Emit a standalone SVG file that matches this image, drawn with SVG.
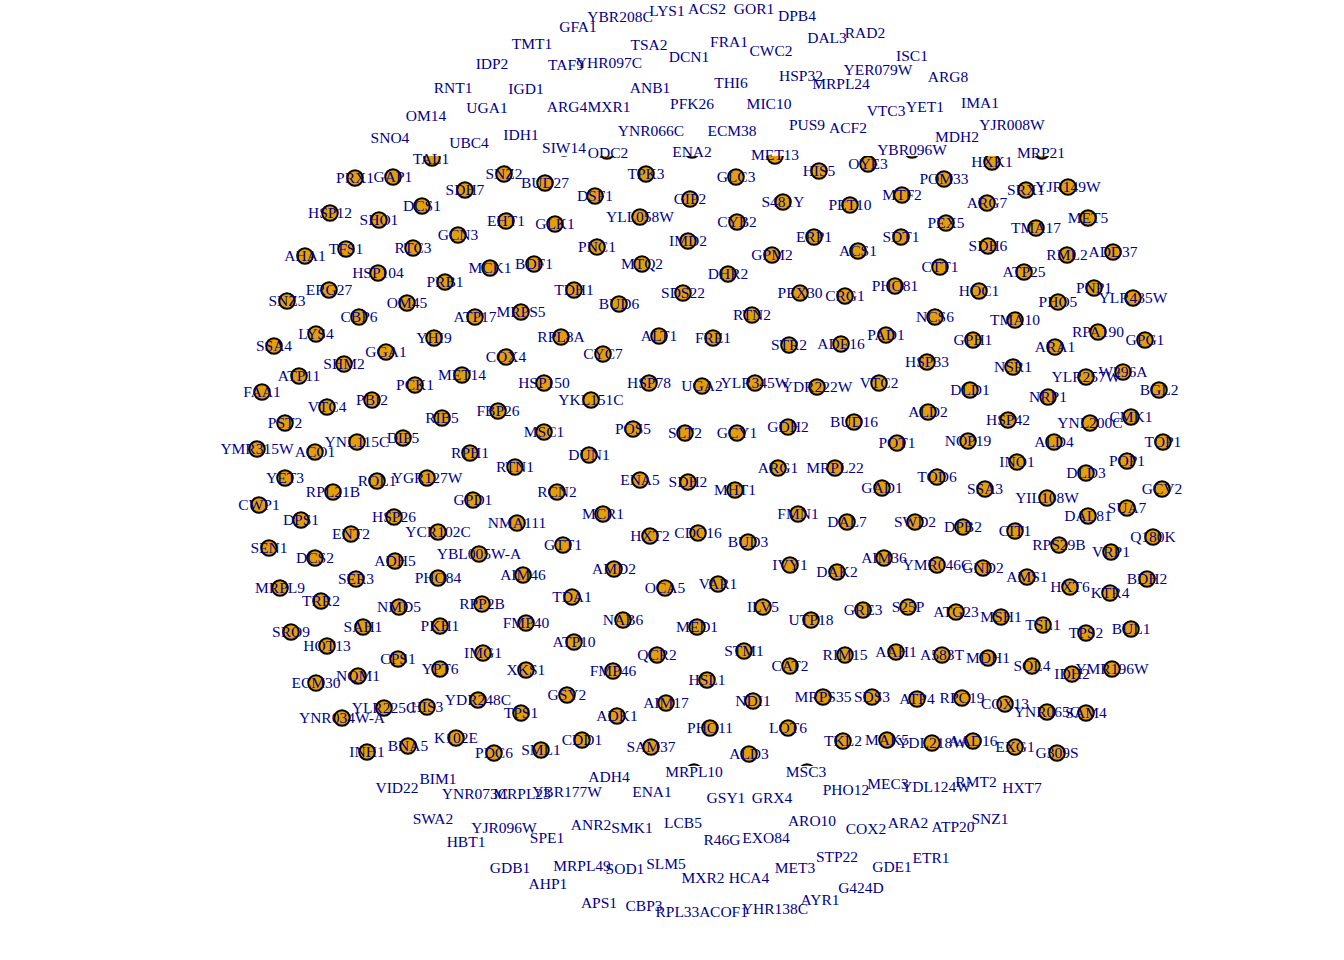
<svg xmlns="http://www.w3.org/2000/svg" width="1344" height="960" viewBox="0 0 1344 960">
<style>
.v{fill:#E69F00;stroke:#000;stroke-width:2;clip-path:url(#plot)}
text{font-family:"Liberation Serif","Times New Roman",serif;font-size:15.5px;fill:#00008B;text-anchor:middle}
</style>
<defs><clipPath id="plot"><rect x="0" y="156" width="1344" height="610"/></clipPath></defs>
<rect width="1344" height="960" fill="#fff"/>
<g id="nodes">
<g id="v-PRX1"><circle class="v" cx="355" cy="178" r="7.8"/><text x="355" y="183">PRX1</text></g>
<g id="v-GAP1"><circle class="v" cx="393" cy="177" r="7.8"/><text x="393" y="182">GAP1</text></g>
<g id="v-HSP12"><circle class="v" cx="330" cy="213" r="7.8"/><text x="330" y="218">HSP12</text></g>
<g id="v-SHO1"><circle class="v" cx="379" cy="220" r="7.8"/><text x="379" y="225">SHO1</text></g>
<g id="v-DCS1"><circle class="v" cx="422" cy="206" r="7.8"/><text x="422" y="211">DCS1</text></g>
<g id="v-GCN3"><circle class="v" cx="458" cy="235" r="7.8"/><text x="458" y="240">GCN3</text></g>
<g id="v-AHA1"><circle class="v" cx="305" cy="256" r="7.8"/><text x="305" y="261">AHA1</text></g>
<g id="v-TFS1"><circle class="v" cx="346" cy="249" r="7.8"/><text x="346" y="254">TFS1</text></g>
<g id="v-RTC3"><circle class="v" cx="413" cy="248" r="7.8"/><text x="413" y="253">RTC3</text></g>
<g id="v-HSP104"><circle class="v" cx="378" cy="273" r="7.8"/><text x="378" y="278">HSP104</text></g>
<g id="v-PRB1"><circle class="v" cx="445" cy="282" r="7.8"/><text x="445" y="287">PRB1</text></g>
<g id="v-ERG27"><circle class="v" cx="329" cy="290" r="7.8"/><text x="329" y="295">ERG27</text></g>
<g id="v-SNZ3"><circle class="v" cx="287" cy="301" r="7.8"/><text x="287" y="306">SNZ3</text></g>
<g id="v-OM45"><circle class="v" cx="407" cy="303" r="7.8"/><text x="407" y="308">OM45</text></g>
<g id="v-CBP6"><circle class="v" cx="359" cy="317" r="7.8"/><text x="359" y="322">CBP6</text></g>
<g id="v-SNZ2"><circle class="v" cx="504" cy="174" r="7.8"/><text x="504" y="179">SNZ2</text></g>
<g id="v-BUD27"><circle class="v" cx="545" cy="183" r="7.8"/><text x="545" y="188">BUD27</text></g>
<g id="v-TPK3"><circle class="v" cx="646" cy="174" r="7.8"/><text x="646" y="179">TPK3</text></g>
<g id="v-SDH7"><circle class="v" cx="465" cy="190" r="7.8"/><text x="465" y="195">SDH7</text></g>
<g id="v-DSF1"><circle class="v" cx="595" cy="196" r="7.8"/><text x="595" y="201">DSF1</text></g>
<g id="v-GIP2"><circle class="v" cx="690" cy="199" r="7.8"/><text x="690" y="204">GIP2</text></g>
<g id="v-EHT1"><circle class="v" cx="506" cy="221" r="7.8"/><text x="506" y="226">EHT1</text></g>
<g id="v-GLK1"><circle class="v" cx="555" cy="224" r="7.8"/><text x="555" y="229">GLK1</text></g>
<g id="v-YLL058W"><circle class="v" cx="640" cy="217" r="7.8"/><text x="640" y="222">YLL058W</text></g>
<g id="v-IMD2"><circle class="v" cx="688" cy="241" r="7.8"/><text x="688" y="246">IMD2</text></g>
<g id="v-PNC1"><circle class="v" cx="597" cy="247" r="7.8"/><text x="597" y="252">PNC1</text></g>
<g id="v-MCK1"><circle class="v" cx="490" cy="268" r="7.8"/><text x="490" y="273">MCK1</text></g>
<g id="v-BDF1"><circle class="v" cx="534" cy="264" r="7.8"/><text x="534" y="269">BDF1</text></g>
<g id="v-MTQ2"><circle class="v" cx="642" cy="264" r="7.8"/><text x="642" y="269">MTQ2</text></g>
<g id="v-TDH1"><circle class="v" cx="574" cy="290" r="7.8"/><text x="574" y="295">TDH1</text></g>
<g id="v-SDS22"><circle class="v" cx="683" cy="293" r="7.8"/><text x="683" y="298">SDS22</text></g>
<g id="v-BUD6"><circle class="v" cx="619" cy="304" r="7.8"/><text x="619" y="309">BUD6</text></g>
<g id="v-MRPS5"><circle class="v" cx="521" cy="312" r="7.8"/><text x="521" y="317">MRPS5</text></g>
<g id="v-ATP17"><circle class="v" cx="475" cy="317" r="7.8"/><text x="475" y="322">ATP17</text></g>
<g id="v-GLC3"><circle class="v" cx="736" cy="177" r="7.8"/><text x="736" y="182">GLC3</text></g>
<g id="v-HIS5"><circle class="v" cx="819" cy="171" r="7.8"/><text x="819" y="176">HIS5</text></g>
<g id="v-OYE3"><circle class="v" cx="868" cy="164" r="7.8"/><text x="868" y="169">OYE3</text></g>
<g id="v-POM33"><circle class="v" cx="944" cy="179" r="7.8"/><text x="944" y="184">POM33</text></g>
<g id="v-S481Y"><circle class="v" cx="783" cy="202" r="7.8"/><text x="783" y="207">S481Y</text></g>
<g id="v-PET10"><circle class="v" cx="850" cy="205" r="7.8"/><text x="850" y="210">PET10</text></g>
<g id="v-MTF2"><circle class="v" cx="902" cy="195" r="7.8"/><text x="902" y="200">MTF2</text></g>
<g id="v-CYB2"><circle class="v" cx="737" cy="222" r="7.8"/><text x="737" y="227">CYB2</text></g>
<g id="v-ERP1"><circle class="v" cx="814" cy="237" r="7.8"/><text x="814" y="242">ERP1</text></g>
<g id="v-SDT1"><circle class="v" cx="901" cy="237" r="7.8"/><text x="901" y="242">SDT1</text></g>
<g id="v-ACS1"><circle class="v" cx="858" cy="251" r="7.8"/><text x="858" y="256">ACS1</text></g>
<g id="v-GPM2"><circle class="v" cx="772" cy="255" r="7.8"/><text x="772" y="260">GPM2</text></g>
<g id="v-DHR2"><circle class="v" cx="728" cy="274" r="7.8"/><text x="728" y="279">DHR2</text></g>
<g id="v-PHO81"><circle class="v" cx="895" cy="286" r="7.8"/><text x="895" y="291">PHO81</text></g>
<g id="v-PEX30"><circle class="v" cx="800" cy="293" r="7.8"/><text x="800" y="298">PEX30</text></g>
<g id="v-CRG1"><circle class="v" cx="845" cy="296" r="7.8"/><text x="845" y="301">CRG1</text></g>
<g id="v-PEX5"><circle class="v" cx="946" cy="223" r="7.8"/><text x="946" y="228">PEX5</text></g>
<g id="v-CTT1"><circle class="v" cx="940" cy="267" r="7.8"/><text x="940" y="272">CTT1</text></g>
<g id="v-HXK1"><circle class="v" cx="992" cy="162" r="7.8"/><text x="992" y="167">HXK1</text></g>
<g id="v-SRX1"><circle class="v" cx="1026" cy="190" r="7.8"/><text x="1026" y="195">SRX1</text></g>
<g id="v-YJR149W"><circle class="v" cx="1068" cy="187" r="7.8"/><text x="1068" y="192">YJR149W</text></g>
<g id="v-ARG7"><circle class="v" cx="987" cy="203" r="7.8"/><text x="987" y="208">ARG7</text></g>
<g id="v-MET5"><circle class="v" cx="1088" cy="218" r="7.8"/><text x="1088" y="223">MET5</text></g>
<g id="v-TMA17"><circle class="v" cx="1036" cy="228" r="7.8"/><text x="1036" y="233">TMA17</text></g>
<g id="v-SDH6"><circle class="v" cx="988" cy="246" r="7.8"/><text x="988" y="251">SDH6</text></g>
<g id="v-RML2"><circle class="v" cx="1067" cy="255" r="7.8"/><text x="1067" y="260">RML2</text></g>
<g id="v-ADD37"><circle class="v" cx="1113" cy="252" r="7.8"/><text x="1113" y="257">ADD37</text></g>
<g id="v-ATP25"><circle class="v" cx="1024" cy="272" r="7.8"/><text x="1024" y="277">ATP25</text></g>
<g id="v-HOC1"><circle class="v" cx="979" cy="291" r="7.8"/><text x="979" y="296">HOC1</text></g>
<g id="v-PNP1"><circle class="v" cx="1094" cy="288" r="7.8"/><text x="1094" y="293">PNP1</text></g>
<g id="v-PHO5"><circle class="v" cx="1058" cy="302" r="7.8"/><text x="1058" y="307">PHO5</text></g>
<g id="v-YLR435W"><circle class="v" cx="1133" cy="298" r="7.8"/><text x="1133" y="303">YLR435W</text></g>
<g id="v-NCS6"><circle class="v" cx="935" cy="317" r="7.8"/><text x="935" y="322">NCS6</text></g>
<g id="v-TMA10"><circle class="v" cx="1015" cy="320" r="7.8"/><text x="1015" y="325">TMA10</text></g>
<g id="v-LYS4"><circle class="v" cx="316" cy="334" r="7.8"/><text x="316" y="339">LYS4</text></g>
<g id="v-SSA4"><circle class="v" cx="274" cy="346" r="7.8"/><text x="274" y="351">SSA4</text></g>
<g id="v-YHI9"><circle class="v" cx="434" cy="338" r="7.8"/><text x="434" y="343">YHI9</text></g>
<g id="v-GGA1"><circle class="v" cx="386" cy="352" r="7.8"/><text x="386" y="357">GGA1</text></g>
<g id="v-SHM2"><circle class="v" cx="344" cy="364" r="7.8"/><text x="344" y="369">SHM2</text></g>
<g id="v-ATP11"><circle class="v" cx="299" cy="376" r="7.8"/><text x="299" y="381">ATP11</text></g>
<g id="v-MET14"><circle class="v" cx="462" cy="375" r="7.8"/><text x="462" y="380">MET14</text></g>
<g id="v-PCK1"><circle class="v" cx="415" cy="385" r="7.8"/><text x="415" y="390">PCK1</text></g>
<g id="v-FAA1"><circle class="v" cx="262" cy="392" r="7.8"/><text x="262" y="397">FAA1</text></g>
<g id="v-PBI2"><circle class="v" cx="372" cy="400" r="7.8"/><text x="372" y="405">PBI2</text></g>
<g id="v-VTC4"><circle class="v" cx="327" cy="407" r="7.8"/><text x="327" y="412">VTC4</text></g>
<g id="v-PST2"><circle class="v" cx="285" cy="423" r="7.8"/><text x="285" y="428">PST2</text></g>
<g id="v-RIB5"><circle class="v" cx="442" cy="418" r="7.8"/><text x="442" y="423">RIB5</text></g>
<g id="v-YNL115C"><circle class="v" cx="357" cy="442" r="7.8"/><text x="357" y="447">YNL115C</text></g>
<g id="v-DIP5"><circle class="v" cx="403" cy="438" r="7.8"/><text x="403" y="443">DIP5</text></g>
<g id="v-YMR315W"><circle class="v" cx="257" cy="449" r="7.8"/><text x="257" y="454">YMR315W</text></g>
<g id="v-ACO1"><circle class="v" cx="315" cy="452" r="7.8"/><text x="315" y="457">ACO1</text></g>
<g id="v-YET3"><circle class="v" cx="285" cy="478" r="7.8"/><text x="285" y="483">YET3</text></g>
<g id="v-ROL1"><circle class="v" cx="377" cy="481" r="7.8"/><text x="377" y="486">ROL1</text></g>
<g id="v-YGR127W"><circle class="v" cx="427" cy="478" r="7.8"/><text x="427" y="483">YGR127W</text></g>
<g id="v-RPL21B"><circle class="v" cx="333" cy="492" r="7.8"/><text x="333" y="497">RPL21B</text></g>
<g id="v-CWP1"><circle class="v" cx="259" cy="505" r="7.8"/><text x="259" y="510">CWP1</text></g>
<g id="v-DPS1"><circle class="v" cx="301" cy="520" r="7.8"/><text x="301" y="525">DPS1</text></g>
<g id="v-HSP26"><circle class="v" cx="394" cy="517" r="7.8"/><text x="394" y="522">HSP26</text></g>
<g id="v-YCR102C"><circle class="v" cx="438" cy="532" r="7.8"/><text x="438" y="537">YCR102C</text></g>
<g id="v-ENT2"><circle class="v" cx="351" cy="534" r="7.8"/><text x="351" y="539">ENT2</text></g>
<g id="v-SEN1"><circle class="v" cx="269" cy="548" r="7.8"/><text x="269" y="553">SEN1</text></g>
<g id="v-DCS2"><circle class="v" cx="315" cy="558" r="7.8"/><text x="315" y="563">DCS2</text></g>
<g id="v-ADH5"><circle class="v" cx="395" cy="561" r="7.8"/><text x="395" y="566">ADH5</text></g>
<g id="v-YBL005W-A"><circle class="v" cx="479" cy="554" r="7.8"/><text x="479" y="559">YBL005W-A</text></g>
<g id="v-SER3"><circle class="v" cx="356" cy="579" r="7.8"/><text x="356" y="584">SER3</text></g>
<g id="v-PHO84"><circle class="v" cx="438" cy="578" r="7.8"/><text x="438" y="583">PHO84</text></g>
<g id="v-MRPL9"><circle class="v" cx="280" cy="588" r="7.8"/><text x="280" y="593">MRPL9</text></g>
<g id="v-TRR2"><circle class="v" cx="321" cy="601" r="7.8"/><text x="321" y="606">TRR2</text></g>
<g id="v-NMD5"><circle class="v" cx="399" cy="607" r="7.8"/><text x="399" y="612">NMD5</text></g>
<g id="v-RPP2B"><circle class="v" cx="482" cy="604" r="7.8"/><text x="482" y="609">RPP2B</text></g>
<g id="v-RPL8A"><circle class="v" cx="561" cy="337" r="7.8"/><text x="561" y="342">RPL8A</text></g>
<g id="v-ALT1"><circle class="v" cx="659" cy="336" r="7.8"/><text x="659" y="341">ALT1</text></g>
<g id="v-COX4"><circle class="v" cx="506" cy="357" r="7.8"/><text x="506" y="362">COX4</text></g>
<g id="v-CYC7"><circle class="v" cx="603" cy="354" r="7.8"/><text x="603" y="359">CYC7</text></g>
<g id="v-HSP150"><circle class="v" cx="544" cy="383" r="7.8"/><text x="544" y="388">HSP150</text></g>
<g id="v-HSP78"><circle class="v" cx="649" cy="383" r="7.8"/><text x="649" y="388">HSP78</text></g>
<g id="v-UGA2"><circle class="v" cx="702" cy="386" r="7.8"/><text x="702" y="391">UGA2</text></g>
<g id="v-YKL151C"><circle class="v" cx="591" cy="400" r="7.8"/><text x="591" y="405">YKL151C</text></g>
<g id="v-FBP26"><circle class="v" cx="498" cy="411" r="7.8"/><text x="498" y="416">FBP26</text></g>
<g id="v-MSC1"><circle class="v" cx="544" cy="432" r="7.8"/><text x="544" y="437">MSC1</text></g>
<g id="v-POS5"><circle class="v" cx="633" cy="429" r="7.8"/><text x="633" y="434">POS5</text></g>
<g id="v-SLT2"><circle class="v" cx="685" cy="433" r="7.8"/><text x="685" y="438">SLT2</text></g>
<g id="v-RPH1"><circle class="v" cx="470" cy="453" r="7.8"/><text x="470" y="458">RPH1</text></g>
<g id="v-DUN1"><circle class="v" cx="589" cy="455" r="7.8"/><text x="589" y="460">DUN1</text></g>
<g id="v-RTN1"><circle class="v" cx="515" cy="467" r="7.8"/><text x="515" y="472">RTN1</text></g>
<g id="v-ENA5"><circle class="v" cx="640" cy="480" r="7.8"/><text x="640" y="485">ENA5</text></g>
<g id="v-SDH2"><circle class="v" cx="688" cy="482" r="7.8"/><text x="688" y="487">SDH2</text></g>
<g id="v-RCN2"><circle class="v" cx="557" cy="492" r="7.8"/><text x="557" y="497">RCN2</text></g>
<g id="v-GPD1"><circle class="v" cx="473" cy="500" r="7.8"/><text x="473" y="505">GPD1</text></g>
<g id="v-MCR1"><circle class="v" cx="603" cy="514" r="7.8"/><text x="603" y="519">MCR1</text></g>
<g id="v-NMA111"><circle class="v" cx="517" cy="523" r="7.8"/><text x="517" y="528">NMA111</text></g>
<g id="v-HXT2"><circle class="v" cx="650" cy="536" r="7.8"/><text x="650" y="541">HXT2</text></g>
<g id="v-CDC16"><circle class="v" cx="698" cy="533" r="7.8"/><text x="698" y="538">CDC16</text></g>
<g id="v-GTT1"><circle class="v" cx="563" cy="545" r="7.8"/><text x="563" y="550">GTT1</text></g>
<g id="v-AMD2"><circle class="v" cx="614" cy="569" r="7.8"/><text x="614" y="574">AMD2</text></g>
<g id="v-AIM46"><circle class="v" cx="523" cy="575" r="7.8"/><text x="523" y="580">AIM46</text></g>
<g id="v-OCA5"><circle class="v" cx="665" cy="588" r="7.8"/><text x="665" y="593">OCA5</text></g>
<g id="v-TDA1"><circle class="v" cx="572" cy="597" r="7.8"/><text x="572" y="602">TDA1</text></g>
<g id="v-NAB6"><circle class="v" cx="623" cy="620" r="7.8"/><text x="623" y="625">NAB6</text></g>
<g id="v-RTN2"><circle class="v" cx="752" cy="315" r="7.8"/><text x="752" y="320">RTN2</text></g>
<g id="v-FRE1"><circle class="v" cx="713" cy="338" r="7.8"/><text x="713" y="343">FRE1</text></g>
<g id="v-STR2"><circle class="v" cx="789" cy="345" r="7.8"/><text x="789" y="350">STR2</text></g>
<g id="v-ADE16"><circle class="v" cx="841" cy="344" r="7.8"/><text x="841" y="349">ADE16</text></g>
<g id="v-PAD1"><circle class="v" cx="886" cy="335" r="7.8"/><text x="886" y="340">PAD1</text></g>
<g id="v-HSP33"><circle class="v" cx="927" cy="362" r="7.8"/><text x="927" y="367">HSP33</text></g>
<g id="v-YLR345W"><circle class="v" cx="755" cy="383" r="7.8"/><text x="755" y="388">YLR345W</text></g>
<g id="v-YDR222W"><circle class="v" cx="817" cy="387" r="7.8"/><text x="817" y="392">YDR222W</text></g>
<g id="v-VTC2"><circle class="v" cx="879" cy="383" r="7.8"/><text x="879" y="388">VTC2</text></g>
<g id="v-ALD2"><circle class="v" cx="928" cy="412" r="7.8"/><text x="928" y="417">ALD2</text></g>
<g id="v-GCY1"><circle class="v" cx="737" cy="433" r="7.8"/><text x="737" y="438">GCY1</text></g>
<g id="v-GDH2"><circle class="v" cx="788" cy="427" r="7.8"/><text x="788" y="432">GDH2</text></g>
<g id="v-BUD16"><circle class="v" cx="854" cy="422" r="7.8"/><text x="854" y="427">BUD16</text></g>
<g id="v-POT1"><circle class="v" cx="897" cy="443" r="7.8"/><text x="897" y="448">POT1</text></g>
<g id="v-ARG1"><circle class="v" cx="778" cy="468" r="7.8"/><text x="778" y="473">ARG1</text></g>
<g id="v-MRPL22"><circle class="v" cx="835" cy="468" r="7.8"/><text x="835" y="473">MRPL22</text></g>
<g id="v-TOD6"><circle class="v" cx="937" cy="477" r="7.8"/><text x="937" y="482">TOD6</text></g>
<g id="v-MHT1"><circle class="v" cx="735" cy="490" r="7.8"/><text x="735" y="495">MHT1</text></g>
<g id="v-GAD1"><circle class="v" cx="882" cy="488" r="7.8"/><text x="882" y="493">GAD1</text></g>
<g id="v-FMN1"><circle class="v" cx="798" cy="514" r="7.8"/><text x="798" y="519">FMN1</text></g>
<g id="v-DAL7"><circle class="v" cx="847" cy="522" r="7.8"/><text x="847" y="527">DAL7</text></g>
<g id="v-SWD2"><circle class="v" cx="915" cy="522" r="7.8"/><text x="915" y="527">SWD2</text></g>
<g id="v-BUD3"><circle class="v" cx="748" cy="542" r="7.8"/><text x="748" y="547">BUD3</text></g>
<g id="v-IVY1"><circle class="v" cx="790" cy="565" r="7.8"/><text x="790" y="570">IVY1</text></g>
<g id="v-DAK2"><circle class="v" cx="837" cy="572" r="7.8"/><text x="837" y="577">DAK2</text></g>
<g id="v-AIM36"><circle class="v" cx="884" cy="558" r="7.8"/><text x="884" y="563">AIM36</text></g>
<g id="v-YMR046C"><circle class="v" cx="937" cy="565" r="7.8"/><text x="937" y="570">YMR046C</text></g>
<g id="v-VAR1"><circle class="v" cx="718" cy="584" r="7.8"/><text x="718" y="589">VAR1</text></g>
<g id="v-ILV5"><circle class="v" cx="763" cy="607" r="7.8"/><text x="763" y="612">ILV5</text></g>
<g id="v-GRE3"><circle class="v" cx="863" cy="610" r="7.8"/><text x="863" y="615">GRE3</text></g>
<g id="v-S25P"><circle class="v" cx="908" cy="607" r="7.8"/><text x="908" y="612">S25P</text></g>
<g id="v-UTP18"><circle class="v" cx="811" cy="620" r="7.8"/><text x="811" y="625">UTP18</text></g>
<g id="v-GPH1"><circle class="v" cx="973" cy="340" r="7.8"/><text x="973" y="345">GPH1</text></g>
<g id="v-RPA190"><circle class="v" cx="1098" cy="332" r="7.8"/><text x="1098" y="337">RPA190</text></g>
<g id="v-GPG1"><circle class="v" cx="1145" cy="340" r="7.8"/><text x="1145" y="345">GPG1</text></g>
<g id="v-ARA1"><circle class="v" cx="1055" cy="347" r="7.8"/><text x="1055" y="352">ARA1</text></g>
<g id="v-NSR1"><circle class="v" cx="1013" cy="367" r="7.8"/><text x="1013" y="372">NSR1</text></g>
<g id="v-W296A"><circle class="v" cx="1123" cy="372" r="7.8"/><text x="1123" y="377">W296A</text></g>
<g id="v-YLR257W"><circle class="v" cx="1086" cy="377" r="7.8"/><text x="1086" y="382">YLR257W</text></g>
<g id="v-DLD1"><circle class="v" cx="970" cy="390" r="7.8"/><text x="970" y="395">DLD1</text></g>
<g id="v-BGL2"><circle class="v" cx="1159" cy="390" r="7.8"/><text x="1159" y="395">BGL2</text></g>
<g id="v-NRP1"><circle class="v" cx="1048" cy="397" r="7.8"/><text x="1048" y="402">NRP1</text></g>
<g id="v-HSP42"><circle class="v" cx="1008" cy="420" r="7.8"/><text x="1008" y="425">HSP42</text></g>
<g id="v-CMK1"><circle class="v" cx="1131" cy="417" r="7.8"/><text x="1131" y="422">CMK1</text></g>
<g id="v-YNL200C"><circle class="v" cx="1090" cy="423" r="7.8"/><text x="1090" y="428">YNL200C</text></g>
<g id="v-TOP1"><circle class="v" cx="1163" cy="442" r="7.8"/><text x="1163" y="447">TOP1</text></g>
<g id="v-NOP19"><circle class="v" cx="968" cy="441" r="7.8"/><text x="968" y="446">NOP19</text></g>
<g id="v-ALD4"><circle class="v" cx="1054" cy="442" r="7.8"/><text x="1054" y="447">ALD4</text></g>
<g id="v-INO1"><circle class="v" cx="1017" cy="462" r="7.8"/><text x="1017" y="467">INO1</text></g>
<g id="v-POP1"><circle class="v" cx="1127" cy="461" r="7.8"/><text x="1127" y="466">POP1</text></g>
<g id="v-DLD3"><circle class="v" cx="1086" cy="473" r="7.8"/><text x="1086" y="478">DLD3</text></g>
<g id="v-GCV2"><circle class="v" cx="1162" cy="489" r="7.8"/><text x="1162" y="494">GCV2</text></g>
<g id="v-SSA3"><circle class="v" cx="985" cy="489" r="7.8"/><text x="985" y="494">SSA3</text></g>
<g id="v-YIL108W"><circle class="v" cx="1047" cy="498" r="7.8"/><text x="1047" y="503">YIL108W</text></g>
<g id="v-SUA7"><circle class="v" cx="1127" cy="508" r="7.8"/><text x="1127" y="513">SUA7</text></g>
<g id="v-DAL81"><circle class="v" cx="1088" cy="516" r="7.8"/><text x="1088" y="521">DAL81</text></g>
<g id="v-DPB2"><circle class="v" cx="963" cy="527" r="7.8"/><text x="963" y="532">DPB2</text></g>
<g id="v-CIT1"><circle class="v" cx="1015" cy="531" r="7.8"/><text x="1015" y="536">CIT1</text></g>
<g id="v-Q180K"><circle class="v" cx="1153" cy="537" r="7.8"/><text x="1153" y="542">Q180K</text></g>
<g id="v-RPS29B"><circle class="v" cx="1059" cy="545" r="7.8"/><text x="1059" y="550">RPS29B</text></g>
<g id="v-VRP1"><circle class="v" cx="1111" cy="552" r="7.8"/><text x="1111" y="557">VRP1</text></g>
<g id="v-GND2"><circle class="v" cx="983" cy="568" r="7.8"/><text x="983" y="573">GND2</text></g>
<g id="v-AMS1"><circle class="v" cx="1027" cy="577" r="7.8"/><text x="1027" y="582">AMS1</text></g>
<g id="v-BDH2"><circle class="v" cx="1147" cy="579" r="7.8"/><text x="1147" y="584">BDH2</text></g>
<g id="v-HXT6"><circle class="v" cx="1070" cy="587" r="7.8"/><text x="1070" y="592">HXT6</text></g>
<g id="v-KTR4"><circle class="v" cx="1110" cy="593" r="7.8"/><text x="1110" y="598">KTR4</text></g>
<g id="v-ATG23"><circle class="v" cx="956" cy="612" r="7.8"/><text x="956" y="617">ATG23</text></g>
<g id="v-MSH1"><circle class="v" cx="1001" cy="617" r="7.8"/><text x="1001" y="622">MSH1</text></g>
<g id="v-TSL1"><circle class="v" cx="1043" cy="625" r="7.8"/><text x="1043" y="630">TSL1</text></g>
<g id="v-TPS2"><circle class="v" cx="1086" cy="633" r="7.8"/><text x="1086" y="638">TPS2</text></g>
<g id="v-BUL1"><circle class="v" cx="1131" cy="629" r="7.8"/><text x="1131" y="634">BUL1</text></g>
<g id="v-A583T"><circle class="v" cx="942" cy="655" r="7.8"/><text x="942" y="660">A583T</text></g>
<g id="v-MDH1"><circle class="v" cx="988" cy="658" r="7.8"/><text x="988" y="663">MDH1</text></g>
<g id="v-SOL4"><circle class="v" cx="1032" cy="666" r="7.8"/><text x="1032" y="671">SOL4</text></g>
<g id="v-YMR196W"><circle class="v" cx="1112" cy="669" r="7.8"/><text x="1112" y="674">YMR196W</text></g>
<g id="v-IDH2"><circle class="v" cx="1072" cy="674" r="7.8"/><text x="1072" y="679">IDH2</text></g>
<g id="v-RPC19"><circle class="v" cx="962" cy="698" r="7.8"/><text x="962" y="703">RPC19</text></g>
<g id="v-COX13"><circle class="v" cx="1005" cy="704" r="7.8"/><text x="1005" y="709">COX13</text></g>
<g id="v-SAM4"><circle class="v" cx="1086" cy="713" r="7.8"/><text x="1086" y="718">SAM4</text></g>
<g id="v-YNR065C"><circle class="v" cx="1047" cy="712" r="7.8"/><text x="1047" y="717">YNR065C</text></g>
<g id="v-AAD16"><circle class="v" cx="973" cy="741" r="7.8"/><text x="973" y="746">AAD16</text></g>
<g id="v-YDL218W"><circle class="v" cx="932" cy="743" r="7.8"/><text x="932" y="748">YDL218W</text></g>
<g id="v-EXG1"><circle class="v" cx="1015" cy="747" r="7.8"/><text x="1015" y="752">EXG1</text></g>
<g id="v-G309S"><circle class="v" cx="1057" cy="753" r="7.8"/><text x="1057" y="758">G309S</text></g>
<g id="v-STM1"><circle class="v" cx="744" cy="651" r="7.8"/><text x="744" y="656">STM1</text></g>
<g id="v-HSL1"><circle class="v" cx="707" cy="680" r="7.8"/><text x="707" y="685">HSL1</text></g>
<g id="v-CAT2"><circle class="v" cx="790" cy="666" r="7.8"/><text x="790" y="671">CAT2</text></g>
<g id="v-RIM15"><circle class="v" cx="845" cy="655" r="7.8"/><text x="845" y="660">RIM15</text></g>
<g id="v-AAH1"><circle class="v" cx="896" cy="652" r="7.8"/><text x="896" y="657">AAH1</text></g>
<g id="v-NDI1"><circle class="v" cx="753" cy="701" r="7.8"/><text x="753" y="706">NDI1</text></g>
<g id="v-MRPS35"><circle class="v" cx="823" cy="697" r="7.8"/><text x="823" y="702">MRPS35</text></g>
<g id="v-SDS3"><circle class="v" cx="872" cy="697" r="7.8"/><text x="872" y="702">SDS3</text></g>
<g id="v-ATP4"><circle class="v" cx="917" cy="699" r="7.8"/><text x="917" y="704">ATP4</text></g>
<g id="v-PHO11"><circle class="v" cx="710" cy="728" r="7.8"/><text x="710" y="733">PHO11</text></g>
<g id="v-LOT6"><circle class="v" cx="788" cy="728" r="7.8"/><text x="788" y="733">LOT6</text></g>
<g id="v-ALD3"><circle class="v" cx="749" cy="754" r="7.8"/><text x="749" y="759">ALD3</text></g>
<g id="v-TKL2"><circle class="v" cx="843" cy="741" r="7.8"/><text x="843" y="746">TKL2</text></g>
<g id="v-MAK5"><circle class="v" cx="887" cy="740" r="7.8"/><text x="887" y="745">MAK5</text></g>
<g id="v-FMP40"><circle class="v" cx="526" cy="623" r="7.8"/><text x="526" y="628">FMP40</text></g>
<g id="v-MED1"><circle class="v" cx="697" cy="627" r="7.8"/><text x="697" y="632">MED1</text></g>
<g id="v-ATP10"><circle class="v" cx="574" cy="642" r="7.8"/><text x="574" y="647">ATP10</text></g>
<g id="v-IMG1"><circle class="v" cx="483" cy="653" r="7.8"/><text x="483" y="658">IMG1</text></g>
<g id="v-QCR2"><circle class="v" cx="657" cy="655" r="7.8"/><text x="657" y="660">QCR2</text></g>
<g id="v-XKS1"><circle class="v" cx="526" cy="670" r="7.8"/><text x="526" y="675">XKS1</text></g>
<g id="v-FMP46"><circle class="v" cx="613" cy="671" r="7.8"/><text x="613" y="676">FMP46</text></g>
<g id="v-GSY2"><circle class="v" cx="567" cy="695" r="7.8"/><text x="567" y="700">GSY2</text></g>
<g id="v-YDR248C"><circle class="v" cx="478" cy="700" r="7.8"/><text x="478" y="705">YDR248C</text></g>
<g id="v-TPS1"><circle class="v" cx="521" cy="713" r="7.8"/><text x="521" y="718">TPS1</text></g>
<g id="v-ADK1"><circle class="v" cx="617" cy="716" r="7.8"/><text x="617" y="721">ADK1</text></g>
<g id="v-AIM17"><circle class="v" cx="666" cy="703" r="7.8"/><text x="666" y="708">AIM17</text></g>
<g id="v-K102E"><circle class="v" cx="456" cy="738" r="7.8"/><text x="456" y="743">K102E</text></g>
<g id="v-PDC6"><circle class="v" cx="494" cy="753" r="7.8"/><text x="494" y="758">PDC6</text></g>
<g id="v-SML1"><circle class="v" cx="541" cy="750" r="7.8"/><text x="541" y="755">SML1</text></g>
<g id="v-CDD1"><circle class="v" cx="582" cy="740" r="7.8"/><text x="582" y="745">CDD1</text></g>
<g id="v-SAM37"><circle class="v" cx="651" cy="747" r="7.8"/><text x="651" y="752">SAM37</text></g>
<g id="v-SRO9"><circle class="v" cx="291" cy="632" r="7.8"/><text x="291" y="637">SRO9</text></g>
<g id="v-SAH1"><circle class="v" cx="363" cy="627" r="7.8"/><text x="363" y="632">SAH1</text></g>
<g id="v-PKH1"><circle class="v" cx="440" cy="626" r="7.8"/><text x="440" y="631">PKH1</text></g>
<g id="v-HOT13"><circle class="v" cx="327" cy="646" r="7.8"/><text x="327" y="651">HOT13</text></g>
<g id="v-CPS1"><circle class="v" cx="398" cy="659" r="7.8"/><text x="398" y="664">CPS1</text></g>
<g id="v-YPT6"><circle class="v" cx="440" cy="669" r="7.8"/><text x="440" y="674">YPT6</text></g>
<g id="v-ECM30"><circle class="v" cx="316" cy="683" r="7.8"/><text x="316" y="688">ECM30</text></g>
<g id="v-NQM1"><circle class="v" cx="358" cy="676" r="7.8"/><text x="358" y="681">NQM1</text></g>
<g id="v-YLR225C"><circle class="v" cx="384" cy="708" r="7.8"/><text x="384" y="713">YLR225C</text></g>
<g id="v-HIS3"><circle class="v" cx="427" cy="707" r="7.8"/><text x="427" y="712">HIS3</text></g>
<g id="v-YNR034W-A"><circle class="v" cx="342" cy="718" r="7.8"/><text x="342" y="723">YNR034W-A</text></g>
<g id="v-BNA5"><circle class="v" cx="408" cy="746" r="7.8"/><text x="408" y="751">BNA5</text></g>
<g id="v-INH1"><circle class="v" cx="367" cy="752" r="7.8"/><text x="367" y="757">INH1</text></g>
<g id="v-GFA1"><circle class="v" cx="578" cy="27" r="7.8"/><text x="578" y="32">GFA1</text></g>
<g id="v-YBR208C"><circle class="v" cx="620" cy="17" r="7.8"/><text x="620" y="22">YBR208C</text></g>
<g id="v-LYS1"><circle class="v" cx="667" cy="11" r="7.8"/><text x="667" y="16">LYS1</text></g>
<g id="v-ACS2"><circle class="v" cx="707" cy="9" r="7.8"/><text x="707" y="14">ACS2</text></g>
<g id="v-GOR1"><circle class="v" cx="754" cy="9" r="7.8"/><text x="754" y="14">GOR1</text></g>
<g id="v-DPB4"><circle class="v" cx="797" cy="16" r="7.8"/><text x="797" y="21">DPB4</text></g>
<g id="v-DAL3"><circle class="v" cx="827" cy="38" r="7.8"/><text x="827" y="43">DAL3</text></g>
<g id="v-RAD2"><circle class="v" cx="865" cy="33" r="7.8"/><text x="865" y="38">RAD2</text></g>
<g id="v-TMT1"><circle class="v" cx="532" cy="44" r="7.8"/><text x="532" y="49">TMT1</text></g>
<g id="v-TSA2"><circle class="v" cx="649" cy="45" r="7.8"/><text x="649" y="50">TSA2</text></g>
<g id="v-FRA1"><circle class="v" cx="729" cy="42" r="7.8"/><text x="729" y="47">FRA1</text></g>
<g id="v-CWC2"><circle class="v" cx="771" cy="51" r="7.8"/><text x="771" y="56">CWC2</text></g>
<g id="v-DCN1"><circle class="v" cx="689" cy="57" r="7.8"/><text x="689" y="62">DCN1</text></g>
<g id="v-ISC1"><circle class="v" cx="912" cy="56" r="7.8"/><text x="912" y="61">ISC1</text></g>
<g id="v-IDP2"><circle class="v" cx="492" cy="64" r="7.8"/><text x="492" y="69">IDP2</text></g>
<g id="v-TAF9"><circle class="v" cx="566" cy="65" r="7.8"/><text x="566" y="70">TAF9</text></g>
<g id="v-YHR097C"><circle class="v" cx="609" cy="63" r="7.8"/><text x="609" y="68">YHR097C</text></g>
<g id="v-YER079W"><circle class="v" cx="878" cy="70" r="7.8"/><text x="878" y="75">YER079W</text></g>
<g id="v-HSP32"><circle class="v" cx="801" cy="76" r="7.8"/><text x="801" y="81">HSP32</text></g>
<g id="v-MRPL24"><circle class="v" cx="841" cy="84" r="7.8"/><text x="841" y="89">MRPL24</text></g>
<g id="v-ARG8"><circle class="v" cx="948" cy="77" r="7.8"/><text x="948" y="82">ARG8</text></g>
<g id="v-THI6"><circle class="v" cx="731" cy="83" r="7.8"/><text x="731" y="88">THI6</text></g>
<g id="v-ANB1"><circle class="v" cx="650" cy="88" r="7.8"/><text x="650" y="93">ANB1</text></g>
<g id="v-RNT1"><circle class="v" cx="453" cy="88" r="7.8"/><text x="453" y="93">RNT1</text></g>
<g id="v-IGD1"><circle class="v" cx="526" cy="89" r="7.8"/><text x="526" y="94">IGD1</text></g>
<g id="v-IMA1"><circle class="v" cx="980" cy="103" r="7.8"/><text x="980" y="108">IMA1</text></g>
<g id="v-PFK26"><circle class="v" cx="692" cy="104" r="7.8"/><text x="692" y="109">PFK26</text></g>
<g id="v-MIC10"><circle class="v" cx="769" cy="104" r="7.8"/><text x="769" y="109">MIC10</text></g>
<g id="v-UGA1"><circle class="v" cx="487" cy="108" r="7.8"/><text x="487" y="113">UGA1</text></g>
<g id="v-ARG4"><circle class="v" cx="567" cy="107" r="7.8"/><text x="567" y="112">ARG4</text></g>
<g id="v-MXR1"><circle class="v" cx="609" cy="107" r="7.8"/><text x="609" y="112">MXR1</text></g>
<g id="v-VTC3"><circle class="v" cx="886" cy="111" r="7.8"/><text x="886" y="116">VTC3</text></g>
<g id="v-YET1"><circle class="v" cx="925" cy="107" r="7.8"/><text x="925" y="112">YET1</text></g>
<g id="v-OM14"><circle class="v" cx="426" cy="116" r="7.8"/><text x="426" y="121">OM14</text></g>
<g id="v-PUS9"><circle class="v" cx="807" cy="125" r="7.8"/><text x="807" y="130">PUS9</text></g>
<g id="v-ACF2"><circle class="v" cx="848" cy="128" r="7.8"/><text x="848" y="133">ACF2</text></g>
<g id="v-YJR008W"><circle class="v" cx="1012" cy="125" r="7.8"/><text x="1012" y="130">YJR008W</text></g>
<g id="v-YNR066C"><circle class="v" cx="651" cy="131" r="7.8"/><text x="651" y="136">YNR066C</text></g>
<g id="v-ECM38"><circle class="v" cx="732" cy="131" r="7.8"/><text x="732" y="136">ECM38</text></g>
<g id="v-IDH1"><circle class="v" cx="521" cy="135" r="7.8"/><text x="521" y="140">IDH1</text></g>
<g id="v-MDH2"><circle class="v" cx="957" cy="137" r="7.8"/><text x="957" y="142">MDH2</text></g>
<g id="v-SNO4"><circle class="v" cx="390" cy="138" r="7.8"/><text x="390" y="143">SNO4</text></g>
<g id="v-UBC4"><circle class="v" cx="469" cy="143" r="7.8"/><text x="469" y="148">UBC4</text></g>
<g id="v-SIW14"><circle class="v" cx="564" cy="148" r="7.8"/><text x="564" y="153">SIW14</text></g>
<g id="v-ODC2"><circle class="v" cx="607" cy="151" r="7.8"/><text x="608" y="158">ODC2</text></g>
<g id="v-ENA2"><circle class="v" cx="692" cy="150" r="7.8"/><text x="692" y="157">ENA2</text></g>
<g id="v-YBR096W"><circle class="v" cx="912" cy="150" r="7.8"/><text x="912" y="155">YBR096W</text></g>
<g id="v-MET13"><circle class="v" cx="775" cy="156" r="7.8"/><text x="775" y="160">MET13</text></g>
<g id="v-MRP21"><circle class="v" cx="1042" cy="151" r="7.8"/><text x="1041" y="158">MRP21</text></g>
<g id="v-TAL1"><circle class="v" cx="432" cy="158" r="7.8"/><text x="431" y="164">TAL1</text></g>
<g id="v-ADH4"><circle class="v" cx="609" cy="777" r="7.8"/><text x="609" y="782">ADH4</text></g>
<g id="v-MRPL10"><circle class="v" cx="694" cy="772" r="7.8"/><text x="694" y="777">MRPL10</text></g>
<g id="v-MSC3"><circle class="v" cx="807" cy="772" r="7.8"/><text x="806" y="777">MSC3</text></g>
<g id="v-BIM1"><circle class="v" cx="438" cy="779" r="7.8"/><text x="438" y="784">BIM1</text></g>
<g id="v-VID22"><circle class="v" cx="397" cy="788" r="7.8"/><text x="397" y="793">VID22</text></g>
<g id="v-GSY1"><circle class="v" cx="726" cy="798" r="7.8"/><text x="726" y="803">GSY1</text></g>
<g id="v-GRX4"><circle class="v" cx="772" cy="798" r="7.8"/><text x="772" y="803">GRX4</text></g>
<g id="v-PHO12"><circle class="v" cx="846" cy="790" r="7.8"/><text x="846" y="795">PHO12</text></g>
<g id="v-MEC3"><circle class="v" cx="888" cy="784" r="7.8"/><text x="888" y="789">MEC3</text></g>
<g id="v-YDL124W"><circle class="v" cx="936" cy="787" r="7.8"/><text x="936" y="792">YDL124W</text></g>
<g id="v-RMT2"><circle class="v" cx="976" cy="782" r="7.8"/><text x="976" y="787">RMT2</text></g>
<g id="v-HXT7"><circle class="v" cx="1022" cy="788" r="7.8"/><text x="1022" y="793">HXT7</text></g>
<g id="v-YNR073C"><circle class="v" cx="475" cy="794" r="7.8"/><text x="475" y="799">YNR073C</text></g>
<g id="v-MRPL23"><circle class="v" cx="522" cy="794" r="7.8"/><text x="522" y="799">MRPL23</text></g>
<g id="v-YBR177W"><circle class="v" cx="567" cy="792" r="7.8"/><text x="567" y="797">YBR177W</text></g>
<g id="v-ENA1"><circle class="v" cx="652" cy="792" r="7.8"/><text x="652" y="797">ENA1</text></g>
<g id="v-SWA2"><circle class="v" cx="433" cy="819" r="7.8"/><text x="433" y="824">SWA2</text></g>
<g id="v-ARO10"><circle class="v" cx="812" cy="821" r="7.8"/><text x="812" y="826">ARO10</text></g>
<g id="v-COX2"><circle class="v" cx="866" cy="829" r="7.8"/><text x="866" y="834">COX2</text></g>
<g id="v-ARA2"><circle class="v" cx="908" cy="823" r="7.8"/><text x="908" y="828">ARA2</text></g>
<g id="v-ATP20"><circle class="v" cx="953" cy="827" r="7.8"/><text x="953" y="832">ATP20</text></g>
<g id="v-SNZ1"><circle class="v" cx="990" cy="819" r="7.8"/><text x="990" y="824">SNZ1</text></g>
<g id="v-YJR096W"><circle class="v" cx="504" cy="828" r="7.8"/><text x="504" y="833">YJR096W</text></g>
<g id="v-ANR2"><circle class="v" cx="591" cy="825" r="7.8"/><text x="591" y="830">ANR2</text></g>
<g id="v-SMK1"><circle class="v" cx="632" cy="828" r="7.8"/><text x="632" y="833">SMK1</text></g>
<g id="v-LCB5"><circle class="v" cx="683" cy="823" r="7.8"/><text x="683" y="828">LCB5</text></g>
<g id="v-R46G"><circle class="v" cx="722" cy="840" r="7.8"/><text x="722" y="845">R46G</text></g>
<g id="v-EXO84"><circle class="v" cx="766" cy="838" r="7.8"/><text x="766" y="843">EXO84</text></g>
<g id="v-HBT1"><circle class="v" cx="466" cy="842" r="7.8"/><text x="466" y="847">HBT1</text></g>
<g id="v-SPE1"><circle class="v" cx="547" cy="838" r="7.8"/><text x="547" y="843">SPE1</text></g>
<g id="v-STP22"><circle class="v" cx="837" cy="857" r="7.8"/><text x="837" y="862">STP22</text></g>
<g id="v-ETR1"><circle class="v" cx="931" cy="858" r="7.8"/><text x="931" y="863">ETR1</text></g>
<g id="v-GDE1"><circle class="v" cx="892" cy="867" r="7.8"/><text x="892" y="872">GDE1</text></g>
<g id="v-GDB1"><circle class="v" cx="510" cy="868" r="7.8"/><text x="510" y="873">GDB1</text></g>
<g id="v-MRPL49"><circle class="v" cx="582" cy="866" r="7.8"/><text x="582" y="871">MRPL49</text></g>
<g id="v-SOD1"><circle class="v" cx="625" cy="869" r="7.8"/><text x="625" y="874">SOD1</text></g>
<g id="v-SLM5"><circle class="v" cx="666" cy="864" r="7.8"/><text x="666" y="869">SLM5</text></g>
<g id="v-MET3"><circle class="v" cx="795" cy="868" r="7.8"/><text x="795" y="873">MET3</text></g>
<g id="v-AHP1"><circle class="v" cx="548" cy="884" r="7.8"/><text x="548" y="889">AHP1</text></g>
<g id="v-MXR2"><circle class="v" cx="703" cy="878" r="7.8"/><text x="703" y="883">MXR2</text></g>
<g id="v-HCA4"><circle class="v" cx="749" cy="878" r="7.8"/><text x="749" y="883">HCA4</text></g>
<g id="v-G424D"><circle class="v" cx="861" cy="888" r="7.8"/><text x="861" y="893">G424D</text></g>
<g id="v-AYR1"><circle class="v" cx="820" cy="900" r="7.8"/><text x="820" y="905">AYR1</text></g>
<g id="v-APS1"><circle class="v" cx="599" cy="903" r="7.8"/><text x="599" y="908">APS1</text></g>
<g id="v-CBP3"><circle class="v" cx="644" cy="906" r="7.8"/><text x="644" y="911">CBP3</text></g>
<g id="v-RPL33A"><circle class="v" cx="683" cy="912" r="7.8"/><text x="683" y="917">RPL33A</text></g>
<g id="v-COF1"><circle class="v" cx="729" cy="912" r="7.8"/><text x="729" y="917">COF1</text></g>
<g id="v-YHR138C"><circle class="v" cx="775" cy="909" r="7.8"/><text x="775" y="914">YHR138C</text></g>
</g>
</svg>
